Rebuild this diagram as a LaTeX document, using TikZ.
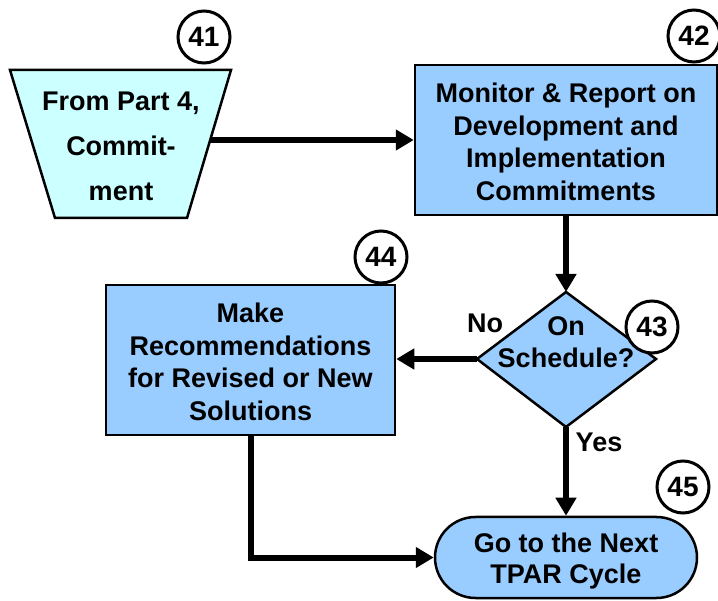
\documentclass[tikz,border=0pt]{standalone}
\usepackage{fontspec}
\setmainfont{Liberation Sans}
\usetikzlibrary{arrows.meta,shapes.geometric,shapes.misc,calc}
\definecolor{boxblue}{HTML}{99CCFF}
\definecolor{trapcyan}{HTML}{CCFFFF}
\begin{document}
\begin{tikzpicture}[x=1pt,y=-1pt,
  txt/.style={font=\bfseries\fontsize{27}{32.5}\selectfont,align=center,text=black},
  boxstyle/.style={draw=black,line width=2.5pt,fill=boxblue},
  numcirc/.style={circle,draw=black,line width=3pt,fill=white,minimum size=52pt,inner sep=0pt,font=\bfseries\fontsize{28}{30}\selectfont},
  flow/.style={line width=6pt,-{Triangle[length=18pt,width=20pt]}},
  lbl/.style={font=\bfseries\fontsize{27}{30}\selectfont}
]
\useasboundingbox (0,0) rectangle (718,601);
% trapezoid 41
\draw[line width=2.5pt,fill=trapcyan] (10,70) -- (231,70) -- (187,218) -- (55,218) -- cycle;
\node[txt,font=\bfseries\fontsize{27}{45}\selectfont] (t41) at (121,146) {From Part 4,\\Commit-\\ment};
\coordinate (t41r) at (210,140);
% box 42
\node[boxstyle,minimum width=302pt,minimum height=150pt,inner sep=0pt] (b42) at (566,140) {};
\node[txt] at (566,142) {Monitor \& Report on\\Development and\\Implementation\\Commitments};
% diamond 43
\draw[boxstyle] (566,292) -- (656,359) -- (566,427) -- (477,359) -- cycle;
\coordinate (d43t) at (566,292);
\coordinate (d43l) at (477,359);
\coordinate (d43b) at (566,427);
\node[txt] (d43) at (566,342) {On\\Schedule?};
% box 44
\node[boxstyle,minimum width=289pt,minimum height=150pt,inner sep=0pt] (b44) at (250.5,360) {};
\node[txt] at (250.5,362) {Make\\Recommendations\\for Revised or New\\Solutions};
% terminal 45
\node[boxstyle,rounded rectangle,minimum width=262pt,minimum height=81pt,inner sep=0pt] (t45) at (566,557.5) {};
\node[txt,font=\bfseries\fontsize{27}{31}\selectfont] at (566,561) {Go to the Next\\TPAR Cycle};
% connectors
\draw[flow] (t41r) -- (b42.west |- t41r);
\draw[flow] (b42.south) -- (d43t);
\draw[flow] (d43l) -- (b44.east |- d43l);
\draw[flow] (d43b) -- (t45.north);
\draw[flow] (b44.south) |- (t45.west);
% labels
\node[lbl] (no) at (485,323) {No};
\node[lbl] (yes) at (599,442) {Yes};
% number circles
\node[numcirc] (c41) at (204,37) {41};
\node[numcirc] (c42) at (694,36) {42};
\node[numcirc] (c43) at (652,327) {43};
\node[numcirc] (c44) at (381,257) {44};
\node[numcirc] (c45) at (683,487) {45};
\end{tikzpicture}
\end{document}
